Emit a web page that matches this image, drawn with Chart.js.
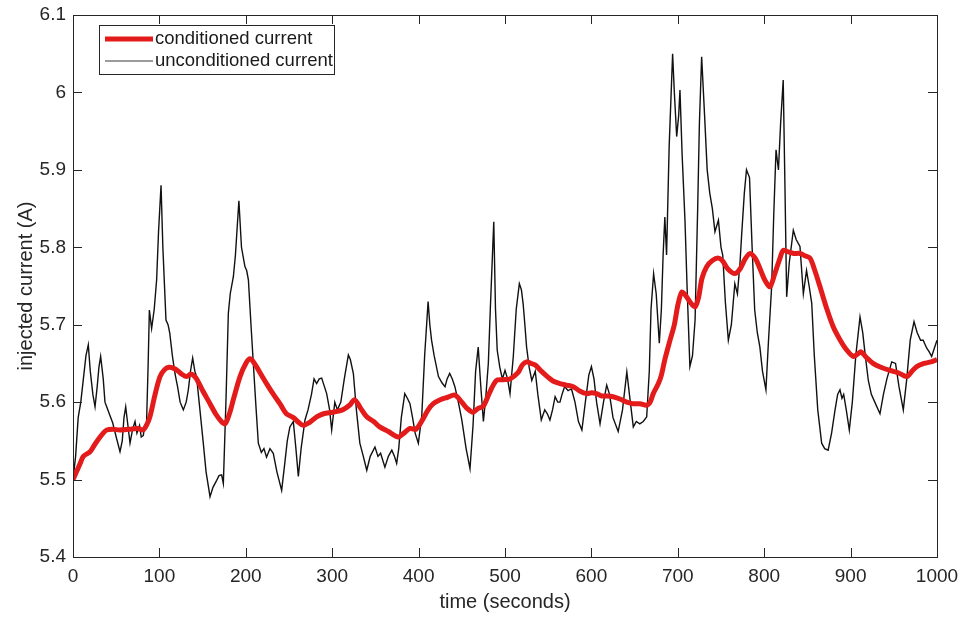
<!DOCTYPE html>
<html>
<head>
<meta charset="utf-8">
<script src="https://cdn.jsdelivr.net/npm/chart.js@4.4.0/dist/chart.umd.min.js"></script>
<style>
  body { margin: 0; background: #fff; }
  #wrap { width: 964px; height: 619px; }
</style>
</head>
<body>
<div id="wrap"><canvas id="myChart" width="964" height="619"></canvas></div>
<script>
// time axis (seconds) and values
const xTicks = [0, 100, 200, 300, 400, 500, 600, 700, 800, 900, 1000];
const yTicks = [5.4, 5.5, 5.6, 5.7, 5.8, 5.9, 6.0, 6.1];

const rawTime = [
  0, 3, 6, 9, 12, 15, 17.7, 20, 23, 25.5, 28, 30, 32, 35, 37, 39, 42, 46, 50, 54.4,
  57, 59, 61, 63, 66, 69, 71.8, 74, 77, 79, 81.4, 83, 85, 87, 88.4, 91, 94, 96.8, 99, 101.9,
  104, 107.6, 110, 112, 115, 118, 121, 124, 127.7, 131, 133.5, 136, 138.5, 141, 143, 146, 150.8, 154, 158.6, 162,
  166.3, 169, 172, 174, 177, 179.8, 182, 185.6, 188, 192, 195, 199, 201, 203, 206, 208.7, 212, 214.5, 218, 221,
  224, 228, 231.8, 236, 241.5, 245, 248, 251, 255, 258, 260.8, 264, 268.5, 272, 276, 279, 282, 285, 287.8, 291,
  293.6, 297, 299.4, 303, 306, 310, 314, 318.7, 321, 324.5, 328, 332, 336, 340, 344, 349.5, 353, 356, 361, 365,
  369, 372, 374.6, 377, 380, 384, 387, 390, 393, 396, 399.7, 403.6, 407, 411, 413, 415, 418, 423, 427, 430.6,
  433, 436, 439, 442, 446, 450, 455, 459.5, 463, 466, 469, 472, 475, 478, 480.7, 483, 487, 489, 491, 494,
  497, 500, 503, 505.8, 509.6, 513, 516.6, 519, 521, 523, 525, 528, 531, 535, 538, 542, 546, 549, 552, 555,
  558, 561, 563.6, 566, 569, 573, 577, 581, 585, 589, 593, 597, 600, 603, 606, 610, 614, 617.7, 621, 625,
  631, 636, 641, 644, 648.5, 652, 656, 660, 664, 667, 669, 672, 675, 678.6, 681, 683, 685, 687, 690, 694,
  696, 698.7, 701, 702.5, 705, 708.3, 711, 714, 717, 720, 723, 725, 727.6, 731, 734, 737, 740, 743, 747, 750,
  752, 755, 758.5, 762, 766, 769, 772, 774, 777, 779.5, 783, 786, 789, 792, 795, 798, 802, 805, 808.6, 811,
  813.7, 816.5, 819, 822, 824, 826, 829, 833.7, 837, 841.4, 845.3, 849, 852, 855, 858, 862, 866.5, 870, 874, 878,
  882, 885, 887.7, 890, 892, 895, 898.5, 902, 906, 910.9, 914, 917, 920.5, 924, 928, 934, 938, 942, 947.6, 952,
  956, 961, 965, 969, 973.4, 977, 981, 984, 988, 991, 993.8, 997, 1000
];
const rawCurrent = [
  5.500, 5.53, 5.58, 5.60, 5.63, 5.66, 5.674, 5.64, 5.61, 5.594, 5.62, 5.645, 5.659, 5.63, 5.60, 5.594, 5.585, 5.573, 5.555, 5.536,
  5.55, 5.58, 5.594, 5.575, 5.547, 5.565, 5.575, 5.56, 5.57, 5.555, 5.557, 5.57, 5.568, 5.65, 5.719, 5.695, 5.72, 5.758, 5.82, 5.880,
  5.80, 5.706, 5.70, 5.689, 5.66, 5.637, 5.62, 5.60, 5.590, 5.60, 5.616, 5.64, 5.657, 5.64, 5.633, 5.60, 5.547, 5.51, 5.478, 5.49,
  5.499, 5.505, 5.506, 5.495, 5.60, 5.715, 5.74, 5.762, 5.79, 5.860, 5.80, 5.775, 5.77, 5.758, 5.70, 5.650, 5.59, 5.547, 5.535, 5.54,
  5.529, 5.54, 5.534, 5.51, 5.486, 5.52, 5.55, 5.568, 5.575, 5.54, 5.504, 5.54, 5.577, 5.59, 5.61, 5.63, 5.624, 5.63, 5.631, 5.62,
  5.611, 5.59, 5.564, 5.600, 5.59, 5.600, 5.63, 5.661, 5.655, 5.637, 5.59, 5.547, 5.53, 5.512, 5.53, 5.542, 5.53, 5.534, 5.516, 5.53,
  5.538, 5.53, 5.521, 5.54, 5.58, 5.611, 5.605, 5.598, 5.58, 5.56, 5.547, 5.581, 5.66, 5.730, 5.70, 5.680, 5.66, 5.633, 5.625, 5.620,
  5.63, 5.637, 5.63, 5.620, 5.60, 5.577, 5.54, 5.514, 5.57, 5.64, 5.671, 5.62, 5.575, 5.61, 5.650, 5.72, 5.833, 5.72, 5.667, 5.645,
  5.63, 5.641, 5.63, 5.611, 5.659, 5.72, 5.753, 5.745, 5.727, 5.70, 5.671, 5.645, 5.628, 5.64, 5.61, 5.577, 5.59, 5.585, 5.577, 5.59,
  5.607, 5.60, 5.600, 5.61, 5.620, 5.615, 5.617, 5.60, 5.575, 5.564, 5.60, 5.635, 5.646, 5.63, 5.60, 5.572, 5.60, 5.622, 5.61, 5.58,
  5.562, 5.59, 5.639, 5.61, 5.568, 5.575, 5.572, 5.575, 5.581, 5.64, 5.72, 5.766, 5.74, 5.676, 5.72, 5.79, 5.839, 5.79, 5.93, 6.050,
  6.00, 5.943, 5.97, 6.003, 5.92, 5.835, 5.74, 5.646, 5.66, 5.706, 5.85, 5.96, 6.046, 5.97, 5.90, 5.870, 5.85, 5.82, 5.835, 5.80,
  5.790, 5.73, 5.680, 5.70, 5.753, 5.740, 5.78, 5.818, 5.87, 5.900, 5.890, 5.80, 5.719, 5.69, 5.671, 5.64, 5.616, 5.68, 5.749, 5.84,
  5.926, 5.900, 5.96, 6.016, 5.88, 5.736, 5.78, 5.822, 5.81, 5.801, 5.740, 5.770, 5.75, 5.728, 5.66, 5.59, 5.547, 5.54, 5.538, 5.56,
  5.59, 5.61, 5.616, 5.605, 5.610, 5.59, 5.564, 5.60, 5.66, 5.710, 5.69, 5.66, 5.628, 5.61, 5.60, 5.585, 5.61, 5.63, 5.652, 5.650,
  5.62, 5.590, 5.63, 5.68, 5.704, 5.69, 5.68, 5.680, 5.67, 5.665, 5.659, 5.67, 5.680
];

const condTime = [
  0, 4, 8, 12, 19.7, 25, 30, 35, 39, 46, 54, 65, 75, 81, 85, 89, 95, 100.7, 106, 111,
  116, 122, 126, 131.6, 136, 139, 143, 150, 158.6, 165, 171, 176, 181, 186, 193.3, 200, 205, 210, 217, 224,
  232, 240, 247, 255, 261, 266.5, 274, 282, 290, 301, 312, 320, 326, 333, 340, 348, 355, 365, 376.5, 383,
  390, 397, 405, 411, 417, 425, 433, 442, 450, 456, 463, 469, 475, 482, 490, 498, 505.8, 515, 520, 525,
  530, 535, 542, 550, 556, 563.6, 571, 579, 587, 594.5, 600, 606, 612, 618, 625, 633, 641, 648, 656, 664,
  668, 671.6, 677.5, 681, 685, 691, 696, 700, 704.5, 709, 715, 720, 724, 728, 733.4, 740, 747, 752, 758, 766,
  772, 778, 783.6, 790, 796, 801, 806.7, 812, 818, 822, 828, 834, 841.4, 847, 853, 858, 864.6, 872, 880, 888,
  895, 903, 908, 912, 918, 926, 935, 945.6, 955, 965, 971, 976.5, 985, 993, 1000
];
const condCurrent = [
  5.500, 5.51, 5.52, 5.53, 5.536, 5.545, 5.553, 5.56, 5.564, 5.565, 5.564, 5.565, 5.566, 5.564, 5.57, 5.581, 5.61, 5.633, 5.642, 5.645,
  5.644, 5.640, 5.636, 5.633, 5.636, 5.635, 5.63, 5.615, 5.598, 5.585, 5.576, 5.572, 5.585, 5.605, 5.633, 5.650, 5.656, 5.650, 5.637, 5.624,
  5.610, 5.597, 5.585, 5.580, 5.574, 5.570, 5.574, 5.581, 5.585, 5.587, 5.590, 5.596, 5.603, 5.592, 5.581, 5.575, 5.568, 5.562, 5.555, 5.560,
  5.566, 5.565, 5.578, 5.590, 5.598, 5.603, 5.606, 5.609, 5.600, 5.592, 5.587, 5.592, 5.595, 5.612, 5.628, 5.629, 5.630, 5.638, 5.648, 5.652,
  5.650, 5.648, 5.640, 5.632, 5.627, 5.624, 5.622, 5.620, 5.614, 5.611, 5.612, 5.611, 5.608, 5.608, 5.607, 5.604, 5.600, 5.598, 5.598, 5.596,
  5.600, 5.611, 5.624, 5.635, 5.655, 5.680, 5.700, 5.725, 5.742, 5.738, 5.728, 5.723, 5.735, 5.760, 5.775, 5.783, 5.786, 5.782, 5.772, 5.766,
  5.772, 5.785, 5.792, 5.785, 5.770, 5.757, 5.749, 5.765, 5.785, 5.796, 5.794, 5.792, 5.792, 5.789, 5.786, 5.772, 5.749, 5.722, 5.697, 5.680,
  5.668, 5.659, 5.662, 5.665, 5.658, 5.650, 5.645, 5.641, 5.638, 5.633, 5.640, 5.646, 5.650, 5.652, 5.655
];

const seriesNames = ['conditioned current', 'unconditioned current'];

const axisColor = '#262626';
const fontFamily = '"Liberation Sans", Arial, Helvetica, sans-serif';

// drop the label-overflow padding so layout.padding alone sets the plot box
function noPad(s) {
  s.paddingTop = 0; s.paddingBottom = 0; s.paddingLeft = 0; s.paddingRight = 0;
}

// inside tick marks + full box, like the original figure
const boxTicks = {
  id: 'boxTicks',
  afterDatasetsDraw(chart) {
    const { ctx, chartArea: a, scales: { x, y } } = chart;
    const len = 9;
    ctx.save();
    ctx.strokeStyle = axisColor;
    ctx.lineWidth = 1;
    ctx.beginPath();
    xTicks.forEach(v => {
      const px = Math.round(x.getPixelForValue(v)) + 0.5;
      ctx.moveTo(px, a.bottom); ctx.lineTo(px, a.bottom - len);
      ctx.moveTo(px, a.top); ctx.lineTo(px, a.top + len);
    });
    yTicks.forEach(v => {
      const py = Math.round(y.getPixelForValue(v)) + 0.5;
      ctx.moveTo(a.left, py); ctx.lineTo(a.left + len, py);
      ctx.moveTo(a.right, py); ctx.lineTo(a.right - len, py);
    });
    ctx.stroke();
    ctx.strokeRect(Math.round(a.left) + 0.5, Math.round(a.top) + 0.5,
      Math.round(a.right - a.left), Math.round(a.bottom - a.top));
    ctx.restore();
  }
};

// legend box in the upper left corner of the axes
const boxLegend = {
  id: 'boxLegend',
  afterDraw(chart) {
    const { ctx, chartArea: a } = chart;
    const ds = chart.data.datasets;
    const bx = a.left + 26, by = a.top + 10, bw = 235, bh = 49;
    ctx.save();
    ctx.fillStyle = '#fff';
    ctx.fillRect(bx, by, bw, bh);
    ctx.strokeStyle = axisColor;
    ctx.lineWidth = 1;
    ctx.strokeRect(bx + 0.5, by + 0.5, bw, bh);
    ctx.font = '18.5px ' + fontFamily;
    ctx.textBaseline = 'middle';
    ds.forEach((d, i) => {
      const ry = by + 14 + i * 22;
      ctx.strokeStyle = i === 0 ? d.borderColor : '#7a7a7a';
      ctx.lineWidth = i === 0 ? 5 : 1.5;
      ctx.beginPath();
      ctx.moveTo(bx + 6, ry); ctx.lineTo(bx + 54, ry);
      ctx.stroke();
      ctx.fillStyle = '#1a1a1a';
      ctx.fillText(d.label, bx + 56, ry);
    });
    ctx.restore();
  }
};

const ctx = document.getElementById('myChart').getContext('2d');
new Chart(ctx, {
  type: 'line',
  data: {
    datasets: [{
      label: seriesNames[0],
      data: condTime.map((t, i) => ({ x: t, y: condCurrent[i] })),
      borderColor: '#e31b1b',
      borderWidth: 5,
      pointRadius: 0,
      tension: 0.3,
      fill: false,
      order: 0
    }, {
      label: seriesNames[1],
      data: rawTime.map((t, i) => ({ x: t, y: rawCurrent[i] })),
      borderColor: '#111111',
      borderWidth: 1.4,
      pointRadius: 0,
      tension: 0,
      fill: false,
      order: 1
    }]
  },
  options: {
    responsive: false,
    animation: false,
    events: [],
    layout: { padding: { top: 15, right: 27, left: 0, bottom: 0 } },
    plugins: { legend: { display: false }, tooltip: { enabled: false } },
    scales: {
      x: {
        type: 'linear',
        min: 0, max: 1000,
        afterFit: s => { s.height = 62; noPad(s); },
        afterBuildTicks: s => { s.ticks = xTicks.map(v => ({ value: v })); },
        grid: { display: false, drawTicks: false },
        border: { display: true, color: axisColor },
        ticks: { color: axisColor, padding: 8, maxRotation: 0, font: { family: fontFamily, size: 19 },
          callback: v => String(v) },
        title: { display: true, text: 'time (seconds)', color: axisColor,
          padding: { top: 0, bottom: 5 }, font: { family: fontFamily, size: 20 } }
      },
      y: {
        min: 5.4, max: 6.1,
        afterFit: s => { s.width = 73; noPad(s); },
        afterBuildTicks: s => { s.ticks = yTicks.map(v => ({ value: v })); },
        grid: { display: false, drawTicks: false },
        border: { display: true, color: axisColor },
        ticks: { color: axisColor, padding: 7, font: { family: fontFamily, size: 19 },
          callback: v => (Math.round(v * 10) / 10).toString() },
        title: { display: true, text: 'injected current (A)', color: axisColor,
          padding: { top: 14, bottom: 0 }, font: { family: fontFamily, size: 20 } }
      }
    }
  },
  plugins: [boxTicks, boxLegend]
});
</script>
</body>
</html>
